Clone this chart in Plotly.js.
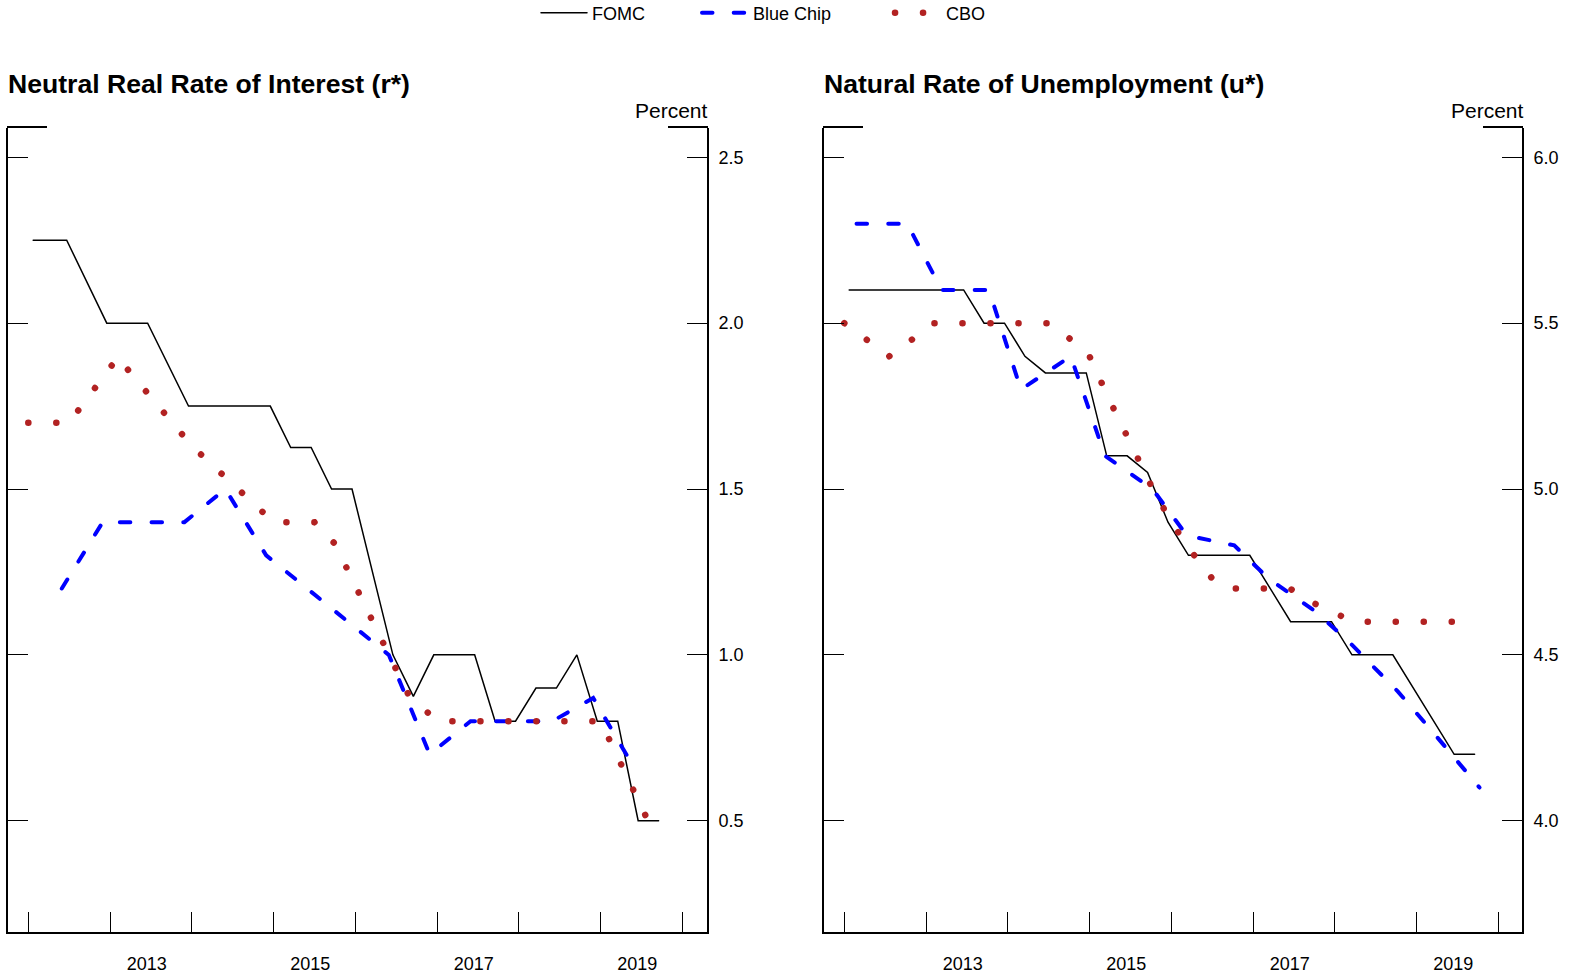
<!DOCTYPE html>
<html>
<head>
<meta charset="utf-8">
<script src="https://cdn.plot.ly/plotly-3.0.1.min.js"></script>
<style>
  html, body { margin: 0; padding: 0; background: #ffffff; }
  #chart { width: 1569px; height: 980px; }
  /* round caps turn the dash patterns into capsules and dots */
  .js-line { stroke-linecap: round; }
</style>
</head>
<body>
<div id="chart"></div>
<script>
// ---------- Neutral real rate of interest (r*), percent ----------
const rstarFomcDates = [2012.06, 2012.47, 2012.96, 2013.46, 2013.96, 2014.96, 2015.21, 2015.46,
  2015.71, 2015.96, 2016.46, 2016.71, 2016.96, 2017.46, 2017.71, 2017.96, 2018.21, 2018.46,
  2018.71, 2018.96, 2019.21, 2019.46, 2019.71];
const rstarFomc = [2.25, 2.25, 2.0, 2.0, 1.75, 1.75, 1.625, 1.625,
  1.5, 1.5, 1.0, 0.875, 1.0, 1.0, 0.8, 0.8, 0.9, 0.9,
  1.0, 0.8, 0.8, 0.5, 0.5];

const rstarBlueChipDates = [2012.41, 2012.91, 2013.41, 2013.91, 2014.41, 2014.91, 2015.41, 2015.91,
  2016.41, 2016.91, 2017.41, 2017.91, 2018.41, 2018.91, 2019.41];
const rstarBlueChip = [1.2, 1.4, 1.4, 1.4, 1.5, 1.3, 1.2, 1.1,
  1.0, 0.7, 0.8, 0.8, 0.8, 0.87, 0.66];

const rstarCboDates = [2012.0, 2012.5, 2013.0, 2013.1, 2013.2, 2014.0, 2015.0, 2015.5, 2015.75,
  2016.65, 2017.0, 2019.0, 2019.58];
const rstarCbo = [1.70, 1.70, 1.865, 1.90, 1.865, 1.63, 1.40, 1.40, 1.335,
  0.88, 0.80, 0.80, 0.50];

// ---------- Natural rate of unemployment (u*), percent ----------
const ustarFomcDates = [2012.06, 2013.46, 2013.71, 2013.96, 2014.21, 2014.46, 2014.96, 2015.21,
  2015.46, 2015.71, 2015.96, 2016.21, 2016.96, 2017.46, 2017.96, 2018.21, 2018.71, 2019.46, 2019.71];
const ustarFomc = [5.6, 5.6, 5.5, 5.5, 5.4, 5.35, 5.35, 5.1,
  5.1, 5.05, 4.9, 4.8, 4.8, 4.6, 4.6, 4.5, 4.5, 4.2, 4.2];

const ustarBlueChipDates = [2012.15, 2012.77, 2013.19, 2013.77, 2014.16, 2014.77, 2015.19, 2015.77,
  2016.19, 2016.77, 2017.19, 2017.77, 2018.19, 2018.77, 2019.19, 2019.77];
const ustarBlueChip = [5.8, 5.8, 5.6, 5.6, 5.3, 5.4, 5.1, 5.0,
  4.86, 4.83, 4.73, 4.63, 4.535, 4.39, 4.27, 4.1];

const ustarCboDates = [2012.0, 2012.55, 2013.1, 2014.5, 2014.75, 2015.0, 2015.25, 2015.5,
  2015.75, 2016.0, 2016.25, 2016.5, 2016.7, 2017.45, 2017.75, 2018.0, 2018.25, 2019.5];
const ustarCbo = [5.5, 5.4, 5.5, 5.5, 5.455, 5.4, 5.265, 5.135,
  5.012, 4.9, 4.81, 4.73, 4.70, 4.70, 4.655, 4.625, 4.60, 4.60];

// ---------- Axis labels ----------
const yearLabels = ['2013', '2015', '2017', '2019'];
const rstarTicks = [0.5, 1.0, 1.5, 2.0, 2.5];
const ustarTicks = [4.0, 4.5, 5.0, 5.5, 6.0];
const seriesNames = ['FOMC', 'Blue Chip', 'CBO'];
const panelTitles = ['Neutral Real Rate of Interest (r*)', 'Natural Rate of Unemployment (u*)'];
const unitLabel = 'Percent';

// ---------- Page geometry ----------
const W = 1569, H = 980;
const FONT = 'Liberation Sans, Arial, Helvetica, sans-serif';
const leftDom = [8 / W, 707 / W];
const rightDom = [824 / W, 1522 / W];
const yDom = [48 / H, 852 / H];
const leftXRange = [2011.752, 2020.302];
const rightXRange = [2011.752, 2020.29];

const styles = [
  { color: '#000000', width: 1.5, dash: 'solid' },
  { color: '#0000ff', width: 4, dash: '10.5px,21.2px' },
  { color: '#b22222', width: 6.5, dash: '0.1px,27.9px' }
];
const legendIds = ['legend', 'legend2', 'legend3'];
const legendLeft = [536, 697, 890];

function series(x, y, i, xa, ya, legend) {
  return {
    type: 'scatter', mode: 'lines', x: x, y: y, xaxis: xa, yaxis: ya,
    name: seriesNames[i], legendgroup: seriesNames[i], showlegend: legend,
    legend: legendIds[i],
    line: { color: styles[i].color, width: styles[i].width, dash: styles[i].dash, shape: 'linear' },
    hoverinfo: 'skip'
  };
}

const traces = [
  series(rstarFomcDates, rstarFomc, 0, 'x', 'y', true),
  series(rstarBlueChipDates, rstarBlueChip, 1, 'x', 'y', true),
  series(rstarCboDates, rstarCbo, 2, 'x', 'y', true),
  series(ustarFomcDates, ustarFomc, 0, 'x2', 'y2', false),
  series(ustarBlueChipDates, ustarBlueChip, 1, 'x2', 'y2', false),
  series(ustarCboDates, ustarCbo, 2, 'x2', 'y2', false)
];

function xAxis(domain, anchor, range) {
  return {
    domain: domain, anchor: anchor, range: range, type: 'linear',
    showgrid: false, zeroline: false, fixedrange: true,
    showline: true, linecolor: '#000', linewidth: 2, mirror: false,
    tickmode: 'array', tickvals: yearLabels.map(y => Number(y) + 0.45), ticktext: yearLabels,
    ticks: '', ticklabelstandoff: 14, tickfont: { family: FONT, size: 18, color: '#000' },
    minor: { tick0: 2012, dtick: 1, ticks: 'inside', ticklen: 20, tickwidth: 1, tickcolor: '#000', showgrid: false }
  };
}

function yAxis(domain, anchor, range, tickvals) {
  return {
    domain: domain, anchor: anchor, range: range, side: 'right',
    showgrid: false, zeroline: false, fixedrange: true,
    showline: true, linecolor: '#000', linewidth: 2, mirror: 'ticks',
    ticks: 'inside', ticklen: 20, tickwidth: 1, tickcolor: '#000',
    tickmode: 'array', tickvals: tickvals, tickformat: '.1f', ticklabelstandoff: 6,
    tickfont: { family: FONT, size: 18, color: '#000' }
  };
}

function topStub(x0) {
  return {
    type: 'line', xref: 'paper', yref: 'paper',
    x0: x0 / W, x1: (x0 + 40) / W, y0: 1 - 127 / H, y1: 1 - 127 / H,
    line: { color: '#000', width: 2 }
  };
}

function titleNote(text, xPix) {
  return {
    xref: 'paper', yref: 'paper', x: xPix / W, y: 1 - 84 / H,
    xanchor: 'left', yanchor: 'middle', showarrow: false, text: '<b>' + text + '</b>',
    font: { family: FONT, size: 26.6, color: '#000' }
  };
}

function unitNote(xPix) {
  return {
    xref: 'paper', yref: 'paper', x: xPix / W, y: 1 - 110 / H,
    xanchor: 'right', yanchor: 'middle', showarrow: false, text: unitLabel,
    font: { family: FONT, size: 21, color: '#000' }
  };
}

function legendBox(i) {
  return {
    orientation: 'h', x: legendLeft[i] / W, xanchor: 'left', y: 1 - 13 / H, yanchor: 'middle',
    font: { family: FONT, size: 18, color: '#000' }, itemwidth: 46,
    bgcolor: 'rgba(0,0,0,0)', borderwidth: 0, itemclick: false, itemdoubleclick: false
  };
}

const layout = {
  width: W, height: H, autosize: false,
  margin: { l: 0, r: 0, t: 0, b: 0, pad: 0, autoexpand: false },
  paper_bgcolor: '#ffffff', plot_bgcolor: '#ffffff',
  font: { family: FONT, size: 18, color: '#000' },
  showlegend: true,
  legend: legendBox(0), legend2: legendBox(1), legend3: legendBox(2),
  xaxis: xAxis(leftDom, 'y', leftXRange),
  yaxis: yAxis(yDom, 'x', [0.1645, 2.5883], rstarTicks),
  xaxis2: xAxis(rightDom, 'y2', rightXRange),
  yaxis2: yAxis(yDom, 'x2', [3.6645, 6.0883], ustarTicks),
  shapes: [topStub(7), topStub(668), topStub(823), topStub(1483)],
  annotations: [
    titleNote(panelTitles[0], 6), titleNote(panelTitles[1], 822),
    unitNote(710), unitNote(1526)
  ]
};

Plotly.newPlot('chart', traces, layout, { staticPlot: true, displayModeBar: false });
</script>
</body>
</html>
